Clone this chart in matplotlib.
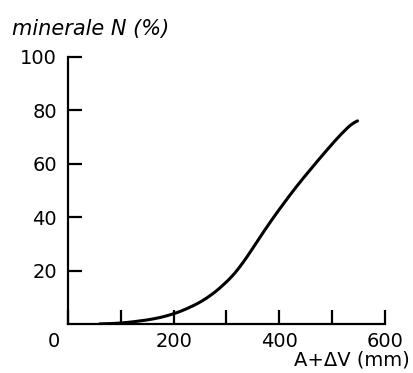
import matplotlib
matplotlib.use('Agg')
import matplotlib.pyplot as plt
import numpy as np

# mineral N (%) against A + dV (mm)
depth = [60, 100, 123, 161, 193, 225, 263, 300, 326, 351, 380, 405, 427, 458, 490, 521, 548]
min_n = [0, 0.3, 0.8, 1.8, 3.3, 5.6, 9.5, 15.5, 21.2, 28.8, 37.5, 44.3, 50.2, 57.7, 65.2, 72.1, 77]

x_major = [0, 200, 400, 600]
x_minor = [100, 300, 500]
y_ticks = [20, 40, 60, 80, 100]

plt.rcParams['font.family'] = 'DejaVu Sans'
fig = plt.figure(figsize=(4.14, 3.73), dpi=100, facecolor='w')
ax = fig.add_axes([68/414, 49/373, 317/414, 267/373])

# smooth the hand drawn curve a bit
xs = np.linspace(depth[0], depth[-1], 300)
ys = np.interp(xs, depth, min_n)
kern = np.ones(25) / 25
ys_s = np.convolve(np.pad(ys, 12, mode='edge'), kern, mode='valid')
ax.plot(xs, ys_s, color='black', lw=2.2, solid_capstyle='round')

ax.set_xlim(0, 600)
ax.set_ylim(0, 100)
ax.spines['top'].set_visible(False)
ax.spines['right'].set_visible(False)
for s in ['left', 'bottom']:
    ax.spines[s].set_linewidth(1.6)

ax.set_xticks(x_major)
ax.set_xticklabels(['', '200', '400', '600'])
ax.set_xticks(x_minor, minor=True)
ax.set_yticks(y_ticks)
ax.set_yticklabels([str(v) for v in y_ticks])
ax.tick_params(axis='both', which='both', direction='in', length=10, width=1.6,
               labelsize=14)
ax.tick_params(axis='x', pad=6)
ax.tick_params(axis='y', pad=8)

ax.text(-0.045, -0.03, '0', transform=ax.transAxes, fontsize=14,
        ha='center', va='top')
fig.text(12/414, 1 - 35/373, 'minerale N (%)', fontsize=15, style='italic',
         ha='left', va='baseline')
fig.text(410/414, 1 - 366/373, 'A+ΔV (mm)', fontsize=14,
         ha='right', va='baseline')

plt.savefig('out.png', dpi=100)
